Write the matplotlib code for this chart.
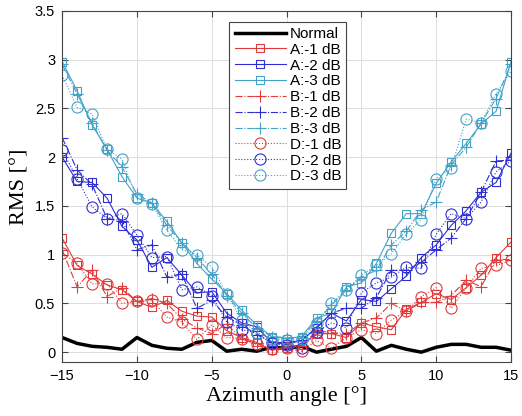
import numpy as np
import matplotlib.pyplot as plt

# azimuth angles
angles = np.arange(-15, 16)

# RMS values
normal = [0.15, 0.09, 0.06, 0.05, 0.03, 0.15, 0.07, 0.04, 0.03, 0.10, 0.12, 0.01, 0.03, 0.01, 0.05, 0.04,
          0.06, 0.00, 0.03, 0.06, 0.15, 0.01, 0.07, 0.03, 0.00, 0.05, 0.08, 0.08, 0.05, 0.05, 0.02]

a1 = [1.17, 0.89, 0.80, 0.69, 0.64, 0.52, 0.46, 0.53, 0.42, 0.37, 0.36, 0.22, 0.15, 0.10, 0.02, 0.04,
      0.07, 0.19, 0.19, 0.15, 0.30, 0.26, 0.23, 0.44, 0.51, 0.60, 0.54, 0.66, 0.79, 0.97, 1.13]
a2 = [2.00, 1.75, 1.74, 1.58, 1.29, 1.15, 0.87, 0.97, 0.79, 0.61, 0.62, 0.40, 0.30, 0.26, 0.10, 0.08,
      0.12, 0.25, 0.40, 0.32, 0.54, 0.52, 0.65, 0.78, 0.97, 1.10, 1.30, 1.45, 1.64, 1.74, 2.04]
a3 = [2.98, 2.68, 2.33, 2.08, 1.80, 1.58, 1.53, 1.34, 1.12, 0.91, 0.75, 0.60, 0.43, 0.28, 0.16, 0.14,
      0.16, 0.35, 0.40, 0.67, 0.71, 0.91, 1.22, 1.42, 1.42, 1.73, 1.95, 2.14, 2.34, 2.47, 2.98]

b1 = [1.05, 0.67, 0.84, 0.57, 0.66, 0.52, 0.55, 0.50, 0.34, 0.25, 0.19, 0.29, 0.13, 0.09, 0.03, 0.05,
      0.06, 0.22, 0.20, 0.19, 0.30, 0.35, 0.50, 0.42, 0.51, 0.51, 0.58, 0.74, 0.67, 0.95, 0.95]
b2 = [2.20, 1.87, 1.72, 1.37, 1.35, 1.05, 1.10, 0.77, 0.80, 0.45, 0.53, 0.36, 0.28, 0.18, 0.10, 0.10,
      0.12, 0.25, 0.40, 0.45, 0.45, 0.56, 0.84, 0.84, 0.92, 1.05, 1.17, 1.37, 1.64, 1.96, 1.97]
b3 = [2.95, 2.65, 2.35, 2.07, 1.90, 1.62, 1.53, 1.30, 1.12, 0.97, 0.80, 0.58, 0.40, 0.25, 0.16, 0.15,
      0.15, 0.32, 0.48, 0.64, 0.77, 0.84, 1.10, 1.24, 1.46, 1.54, 1.92, 2.10, 2.35, 2.60, 2.95]

d1 = [1.02, 0.91, 0.70, 0.70, 0.50, 0.52, 0.53, 0.36, 0.31, 0.13, 0.28, 0.15, 0.14, 0.08, 0.03, 0.04,
      0.01, 0.12, 0.04, 0.15, 0.23, 0.19, 0.33, 0.42, 0.57, 0.66, 0.45, 0.66, 0.86, 0.89, 0.94]
d2 = [2.07, 1.78, 1.49, 1.37, 1.42, 1.20, 0.97, 0.98, 0.64, 0.67, 0.58, 0.31, 0.23, 0.20, 0.09, 0.07,
      0.04, 0.21, 0.30, 0.25, 0.61, 0.71, 0.77, 0.87, 0.86, 1.21, 1.42, 1.37, 1.54, 1.85, 1.96]
d3 = [2.84, 2.51, 2.44, 2.08, 1.98, 1.58, 1.52, 1.25, 1.05, 1.00, 0.87, 0.60, 0.33, 0.20, 0.14, 0.12,
      0.13, 0.30, 0.50, 0.64, 0.79, 0.89, 1.01, 1.21, 1.36, 1.78, 1.89, 2.39, 2.35, 2.65, 2.88]

red = '#e03a3a'
blue = '#2e2ed2'
teal = '#44a2c8'

plt.rcParams['font.family'] = ['Liberation Sans', 'DejaVu Sans']

fig = plt.figure(figsize=(5.22, 4.16), dpi=100)
ax = fig.add_axes([0.119, 0.130, 0.860, 0.844])

ax.plot(angles, normal, color='black', lw=2.5, label='Normal')

ax.plot(angles, a1, '-', marker='s', color=red, lw=0.8, ms=6, mfc='none', mew=0.8, label='A:-1 dB')
ax.plot(angles, a2, '-', marker='s', color=blue, lw=0.8, ms=6, mfc='none', mew=0.8, label='A:-2 dB')
ax.plot(angles, a3, '-', marker='s', color=teal, lw=0.8, ms=6, mfc='none', mew=0.8, label='A:-3 dB')

ax.plot(angles, b1, '-.', marker='+', color=red, lw=0.8, ms=9, mew=0.8, label='B:-1 dB')
ax.plot(angles, b2, '-.', marker='+', color=blue, lw=0.8, ms=9, mew=0.8, label='B:-2 dB')
ax.plot(angles, b3, '-.', marker='+', color=teal, lw=0.8, ms=9, mew=0.8, label='B:-3 dB')

ax.plot(angles, d1, ':', marker='o', color=red, lw=0.8, ms=8, mfc='none', mew=0.8, label='D:-1 dB')
ax.plot(angles, d2, ':', marker='o', color=blue, lw=0.8, ms=8, mfc='none', mew=0.8, label='D:-2 dB')
ax.plot(angles, d3, ':', marker='o', color=teal, lw=0.8, ms=8, mfc='none', mew=0.8, label='D:-3 dB')

ax.set_xlim(-15, 15)
ax.set_ylim(-0.1, 3.5)
ax.set_xticks(np.arange(-15, 16, 5))
ax.set_yticks(np.arange(0, 3.6, 0.5))
ax.set_yticklabels(['0', '0.5', '1', '1.5', '2', '2.5', '3', '3.5'])
ax.tick_params(direction='in', top=True, right=True, labelsize=10.5, length=4, color='#444444', pad=5)
ax.grid(color='#dddddd', lw=0.7)
for s in ax.spines.values():
    s.set_color('#444444')
    s.set_linewidth(0.8)

ax.set_xlabel('Azimuth angle [°]', family='Liberation Serif', fontsize=16, labelpad=2)
ax.set_ylabel('RMS [°]', family='Liberation Serif', fontsize=16, labelpad=4)

leg = ax.legend(loc='upper left', bbox_to_anchor=(0.439, 0.948), bbox_transform=fig.transFigure,
                borderaxespad=0, fontsize=11, handlelength=3.4, handletextpad=0.2, labelspacing=0.12,
                borderpad=0.35, fancybox=False, framealpha=1, edgecolor='#444444')
leg.get_frame().set_linewidth(0.8)

fig.savefig('out.png', dpi=100)
